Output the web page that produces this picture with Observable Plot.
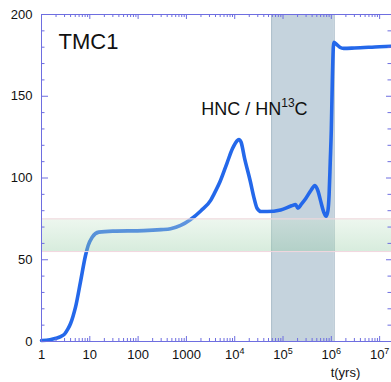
<!DOCTYPE html>
<html><head><meta charset="utf-8">
<script src="https://cdn.jsdelivr.net/npm/d3@7"></script>
<script src="https://cdn.jsdelivr.net/npm/@observablehq/plot@0.6"></script>
<style>body{margin:0;background:#fff}svg{display:block}</style>
</head><body><div id="chart"></div>
<script>
// ---- data ----
const times  = [1, 1.5, 2, 2.5, 3, 3.5, 4, 4.5, 5.06, 6.4, 8.15, 9.25, 11.2, 15.4, 30, 130, 300, 470, 760, 1200, 2000, 3200, 3700, 5000, 6900, 9000, 11000, 12200, 13500, 16000, 21000, 25000, 29000, 35000, 47000, 89000, 150000, 182000, 203000, 240000, 293000, 380000, 457000, 530000, 600000, 700000, 780000, 850000, 900000, 950000, 1000000, 1050000, 1100000, 1130000, 1250000, 1500000, 1800000, 3000000, 10000000, 17600000];
const ratios = [0.6, 1.1, 2, 3, 4.5, 7.5, 11, 15.5, 21, 36.3, 52.6, 58.7, 63.8, 66.9, 67.5, 67.8, 68.4, 69, 71, 74.5, 80, 86.5, 90, 98, 109, 118, 122.5, 123.5, 122, 112, 98, 88, 81.5, 79.5, 79.5, 80.5, 83, 83.8, 81.5, 84, 87.3, 92.5, 95.4, 92, 86, 79, 76.6, 80, 90, 110, 130, 160, 180, 183, 182, 180, 179.3, 179.5, 180.3, 180.6];
const xDomain = [1, 17600000];
const yDomain = [0, 200];
const timeBand = [58000, 1150000];     // shaded epoch
const obsBand  = [55, 75];             // observed range (green)
const xMajor = [1, 10, 100, 1000, 1e4, 1e5, 1e6, 1e7];
const xLabels = ["1", "10", "100", "1000", "10^4", "10^5", "10^6", "10^7"];
const yMajor = [0, 50, 100, 150, 200];
const yMinor = [10, 20, 30, 40, 60, 70, 80, 90, 110, 120, 130, 140, 160, 170, 180, 190];
const title = "TMC1";
const species = "HNC / HN^13C";
const xTitle = "t(yrs)";

// ---- layout ----
const W = 391, H = 382, mL = 41, mT = 14, mB = 41, mR = 0;
const iH = H - mT - mB, iW = W - mL - mR;
const axisColor = "#6e6ee0";
const font = "Liberation Sans, Arial, Helvetica, sans-serif";
const xMinor = xMajor.flatMap(d => d3.range(2, 10).map(k => k * d)).filter(v => v < xDomain[1]);
const series = times.map((t, i) => ({t, v: ratios[i]}));

const chart = Plot.plot({
  width: W, height: H,
  marginLeft: mL, marginTop: mT, marginBottom: mB, marginRight: mR,
  style: {fontFamily: font, background: "#fff", overflow: "visible"},
  x: {type: "log", domain: xDomain, axis: null},
  y: {domain: yDomain, axis: null},
  marks: [
    Plot.rect([timeBand], {x1: d => d[0], x2: d => d[1], fill: "#c5d3dd"}),
    Plot.ruleX(timeBand, {stroke: "#aebfcc", strokeWidth: 1}),
    Plot.line(series, {x: "t", y: "v", stroke: "#2468ea", strokeWidth: 3.6, curve: "monotone-x"}),
    Plot.rect([obsBand], {y1: d => d[0], y2: d => d[1], fill: "url(#greenGrad)"}),
    Plot.ruleY(obsBand, {stroke: "#f2d6de", strokeWidth: 1}),
    // frame
    Plot.ruleY([yDomain[0], yDomain[1]], {stroke: axisColor}),
    Plot.ruleX([xDomain[0]], {stroke: axisColor}),
    // x ticks bottom & top
    Plot.ruleX(xMajor, {stroke: axisColor, insetTop: iH - 5}),
    Plot.ruleX(xMinor, {stroke: axisColor, insetTop: iH - 3}),
    Plot.ruleX(xMajor, {stroke: axisColor, insetBottom: iH - 5}),
    Plot.ruleX(xMinor, {stroke: axisColor, insetBottom: iH - 3}),
    // y ticks left & right
    Plot.ruleY(yMajor, {stroke: axisColor, insetRight: iW - 7}),
    Plot.ruleY(yMinor, {stroke: axisColor, insetRight: iW - 3.5}),
    Plot.ruleY(yMajor, {stroke: axisColor, insetLeft: iW - 5}),
    Plot.ruleY(yMinor, {stroke: axisColor, insetLeft: iW - 3.5}),
    // tick labels
    Plot.text(xLabels, {x: (d, i) => xMajor[i], y: yDomain[0], text: d => d, dy: 13, fontSize: 13, fill: "#111", lineAnchor: "middle", fontFamily: font}),
    Plot.text(yMajor, {x: xDomain[0], y: d => d, text: d => String(d), dx: -9, textAnchor: "end", fontSize: 13, fill: "#111", fontFamily: font}),
    // annotations
    Plot.text([title], {x: 2.25, y: 183.5, text: d => d, textAnchor: "start", fontSize: 22, fill: "#111", fontFamily: font}),
    Plot.text([species], {x: 2025, y: 142.3, text: d => d, textAnchor: "start", fontSize: 18, fill: "#111", fontFamily: font}),
    Plot.text([xTitle], {x: 1.96e6, y: yDomain[0], text: d => d, dy: 31, fontSize: 13, fill: "#111", fontFamily: font})
  ]
});
document.getElementById("chart").appendChild(chart);

// gradient for observed band
const svg = d3.select(chart);
const defs = svg.insert("defs", ":first-child");
const grad = defs.append("linearGradient").attr("id", "greenGrad")
  .attr("x1", 0).attr("y1", 0).attr("x2", 0).attr("y2", 1);
grad.append("stop").attr("offset", "0%").attr("stop-color", "rgb(205,232,208)").attr("stop-opacity", 0.35);
grad.append("stop").attr("offset", "100%").attr("stop-color", "rgb(150,205,165)").attr("stop-opacity", 0.38);

// superscripts for "^n"
svg.selectAll("text").each(function () {
  const s = this.textContent;
  const m = s.match(/^(.*)\^(\d+)(.*)$/);
  if (!m) return;
  const fs = parseFloat(getComputedStyle(this).fontSize) || 13;
  const supSize = Math.round(fs * 0.68);
  const shift = Math.round(fs * 0.42);
  const t = d3.select(this);
  t.text(null);
  t.append("tspan").text(m[1]);
  t.append("tspan").attr("font-size", supSize).attr("dy", -shift).text(m[2]);
  if (m[3]) t.append("tspan").attr("dy", shift).text(m[3]);
});
</script>
</body></html>
